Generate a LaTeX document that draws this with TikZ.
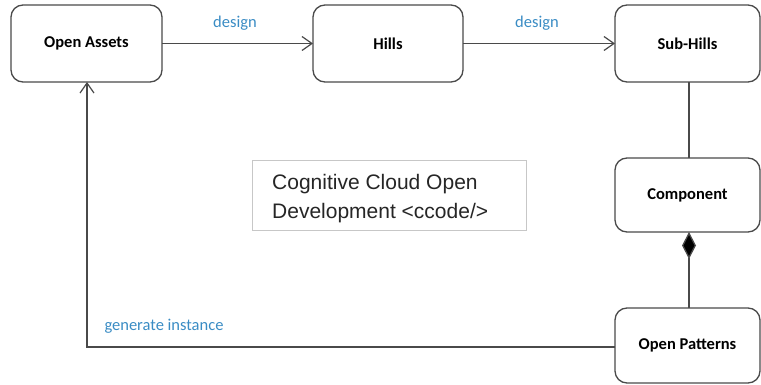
\documentclass[tikz,border=0pt]{standalone}
\usepackage{fontspec}
\setmainfont{Carlito}
\newfontfamily\arialfont{Liberation Sans}
\usetikzlibrary{arrows.meta}
\definecolor{edge}{HTML}{4A4A4A}
\definecolor{lbl}{HTML}{3A8CC4}
\tikzset{
  blk/.style={draw=edge, line width=1.3pt, rounded corners=12pt, fill=white, font=\fontsize{16.5}{19}\selectfont\bfseries, text=black},
  conn/.style={draw=edge, line width=1.3pt},
  openarr/.style={-{Straight Barb[length=10pt,width=14pt,line width=1.2pt]}},
  lab/.style={text=lbl, font=\fontsize{16.5}{19}\selectfont}
}
\begin{document}
\begin{tikzpicture}[x=1pt,y=-1pt]
\useasboundingbox (0,0) rectangle (761,385);
\path[blk] (11,5) rectangle node (oa) {Open Assets} (162,82);
\path[blk] (313,5) rectangle node (hl) {Hills} (463,82);
\path[blk] (615,5) rectangle node (sh) {Sub-Hills} (760,82);
\path[blk] (615,158) rectangle node (cp) {Component} (760,232);
\path[blk] (615,308) rectangle node (op) {Open Patterns} (760,383);
\coordinate (oaR) at (162,43.5);
\coordinate (hlL) at (313,43.5);
\coordinate (hlR) at (463,43.5);
\coordinate (shL) at (615,43.5);
\coordinate (shB) at (689,82);
\coordinate (cpT) at (689,158);
\coordinate (cpB) at (689,232);
\coordinate (opT) at (689,308);
\coordinate (opL) at (615,347);
\coordinate (corner) at (87,347);
\coordinate (oaB) at (87,82);
\draw[conn,openarr] (oaR) -- (hlL);
\draw[conn,openarr] (hlR) -- (shL);
\draw[conn] (shB) -- (cpT);
\draw[conn,-{Diamond[length=27pt,width=14pt,fill=black]}] (opT) -- (cpB);
\draw[conn,openarr] (opL) -- (corner) -- (oaB);
\node[lab] (d1) at (235,23) {design};
\node[lab] (d2) at (537,23) {design};
\node[lab] (gi) at (164,326) {generate instance};
\node[draw=black!22, line width=1pt, fill=white, minimum width=274pt, minimum height=70pt, anchor=north west] (tb) at (252,160) {};
\node[anchor=north west, align=left, inner sep=0pt, font=\arialfont\fontsize{21}{29.5}\selectfont, text=black!85] (tt) at (272,174) {Cognitive Cloud Open\\Development <ccode/>};
\end{tikzpicture}
\end{document}
